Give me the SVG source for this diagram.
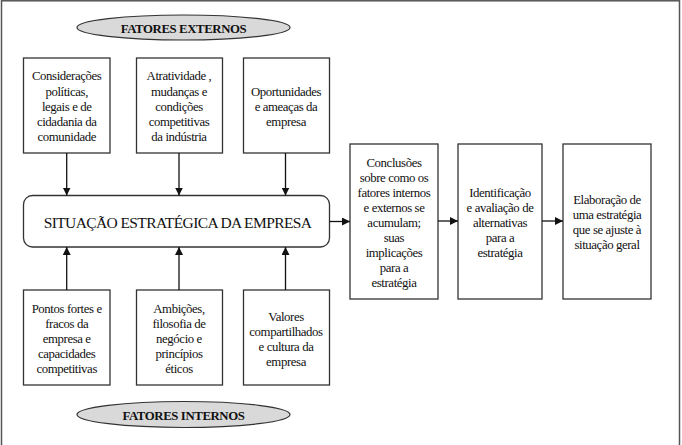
<svg xmlns="http://www.w3.org/2000/svg" width="682" height="445" viewBox="0 0 682 445">
<style>
.box{fill:#fff;stroke:#333;stroke-width:1.3}
.ell{fill:#d9d9d9;stroke:#333;stroke-width:1.2}
text{font-family:'Liberation Serif','DejaVu Serif',serif;fill:#111;text-anchor:middle}
.t{font-size:12.8px;letter-spacing:-0.4px}
.h{font-size:12.8px;font-weight:bold;letter-spacing:-0.4px}
.m{font-size:15.5px;letter-spacing:-0.6px}
.c{stroke:#111;stroke-width:1.3;fill:none;marker-end:url(#ah)}
</style>
<defs>
<marker id="ah" viewBox="0 0 10 10" refX="10" refY="5" markerWidth="8" markerHeight="8" markerUnits="userSpaceOnUse" orient="auto">
<path d="M0,0 L10,5 L0,10 z" fill="#111"/>
</marker>
</defs>
<rect x="1.5" y="0.8" width="678" height="460" fill="#fff" stroke="#555" stroke-width="1.5"/>

<g id="fatores-externos">
<ellipse class="ell" cx="183.5" cy="27.5" rx="106.5" ry="12.5"/>
<text class="h" x="183.5" y="32.5">FATORES EXTERNOS</text>
</g>

<g id="ext1">
<rect class="box" x="23.5" y="58" width="86.5" height="95"/>
<text class="t" x="66.7" y="80">Considerações</text>
<text class="t" x="66.7" y="95.5">políticas,</text>
<text class="t" x="66.7" y="110.5">legais e de</text>
<text class="t" x="66.7" y="125.5">cidadania da</text>
<text class="t" x="66.7" y="140.5">comunidade</text>
</g>
<g id="ext2">
<rect class="box" x="136.5" y="58" width="86" height="95"/>
<text class="t" x="179" y="80">Atratividade ,</text>
<text class="t" x="179" y="95.5">mudanças  e</text>
<text class="t" x="179" y="110.5">condições</text>
<text class="t" x="179" y="125.5">competitivas</text>
<text class="t" x="179" y="140.5">da indústria</text>
</g>
<g id="ext3">
<rect class="box" x="243.5" y="58" width="86" height="95"/>
<text class="t" x="286" y="95.5">Oportunidades</text>
<text class="t" x="286" y="110.5">e ameaças da</text>
<text class="t" x="286" y="125.5">empresa</text>
</g>

<g id="situacao">
<rect class="box" x="23.5" y="195.5" width="306" height="51.5" rx="9"/>
<text class="m" x="177.5" y="227.5">SITUAÇÃO ESTRATÉGICA DA EMPRESA</text>
</g>

<g id="int1">
<rect class="box" x="23.5" y="290" width="86.5" height="95"/>
<text class="t" x="66.7" y="313">Pontos fortes e</text>
<text class="t" x="66.7" y="328">fracos da</text>
<text class="t" x="66.7" y="343">empresa e</text>
<text class="t" x="66.7" y="358">capacidades</text>
<text class="t" x="66.7" y="373">competitivas</text>
</g>
<g id="int2">
<rect class="box" x="136.5" y="290" width="86" height="95"/>
<text class="t" x="179" y="313">Ambições,</text>
<text class="t" x="179" y="328">filosofia de</text>
<text class="t" x="179" y="343">negócio e</text>
<text class="t" x="179" y="358">princípios</text>
<text class="t" x="179" y="373">éticos</text>
</g>
<g id="int3">
<rect class="box" x="243.5" y="290" width="86" height="95"/>
<text class="t" x="286" y="321">Valores</text>
<text class="t" x="286" y="336">compartilhados</text>
<text class="t" x="286" y="351">e cultura da</text>
<text class="t" x="286" y="366">empresa</text>
</g>

<g id="fatores-internos">
<ellipse class="ell" cx="183.5" cy="414.5" rx="106.5" ry="13"/>
<text class="h" x="183.5" y="419.5">FATORES INTERNOS</text>
</g>

<g id="conclusoes">
<rect class="box" x="350" y="144" width="88" height="155"/>
<text class="t" x="394" y="167">Conclusões</text>
<text class="t" x="394" y="182">sobre como os</text>
<text class="t" x="394" y="197">fatores internos</text>
<text class="t" x="394" y="212">e externos se</text>
<text class="t" x="394" y="227">acumulam;</text>
<text class="t" x="394" y="242">suas</text>
<text class="t" x="394" y="257">implicações</text>
<text class="t" x="394" y="272">para a</text>
<text class="t" x="394" y="287">estratégia</text>
</g>
<g id="identificacao">
<rect class="box" x="458" y="144" width="84" height="155"/>
<text class="t" x="500" y="197">Identificação</text>
<text class="t" x="500" y="212">e avaliação de</text>
<text class="t" x="500" y="227">alternativas</text>
<text class="t" x="500" y="242">para a</text>
<text class="t" x="500" y="257">estratégia</text>
</g>
<g id="elaboracao">
<rect class="box" x="563" y="144" width="88" height="155"/>
<text class="t" x="607" y="204">Elaboração de</text>
<text class="t" x="607" y="219">uma estratégia</text>
<text class="t" x="607" y="234">que se ajuste à</text>
<text class="t" x="607" y="249">situação geral</text>
</g>

<g id="connectors">
<line class="c" x1="66.7" y1="153" x2="66.7" y2="195.5"/>
<line class="c" x1="179" y1="153" x2="179" y2="195.5"/>
<line class="c" x1="285.5" y1="153" x2="285.5" y2="195.5"/>
<line class="c" x1="66.7" y1="290" x2="66.7" y2="247"/>
<line class="c" x1="179" y1="290" x2="179" y2="247"/>
<line class="c" x1="285.5" y1="290" x2="285.5" y2="247"/>
<line class="c" x1="329.5" y1="221.5" x2="350" y2="221.5"/>
<line class="c" x1="438" y1="221" x2="458" y2="221"/>
<line class="c" x1="542" y1="221" x2="563" y2="221"/>
</g>
</svg>
